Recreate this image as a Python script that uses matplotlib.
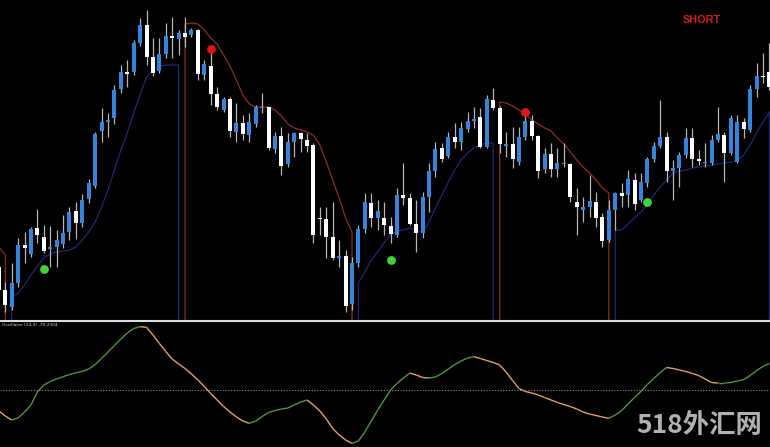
import numpy as np
import matplotlib
matplotlib.use("Agg")
import matplotlib.pyplot as plt
from matplotlib.collections import LineCollection
from matplotlib.lines import Line2D

# candle data (price points), one value per bar
opens = [53, 30, 13, 37, 75, 66, 92, 83, 71, 73,
         76, 88, 109, 97, 121, 134, 189, 198, 202, 231,
         248, 248, 277, 295, 263, 249, 266, 284, 281, 287,
         285, 290, 245, 254, 226, 210, 221, 188, 197, 185,
         196, 212, 213, 171, 184, 156, 178, 187, 180, 175,
         102, 101, 83, 62, 64, 16, 57, 91, 117, 102,
         102, 94, 85, 125, 122, 96, 87, 123, 149, 172,
         164, 183, 178, 191, 199, 203, 173, 220, 212, 174,
         176, 158, 183, 199, 184, 151, 166, 151, 156, 156,
         118, 110, 113, 118, 103, 80, 110, 127, 125, 140,
         120, 137, 161, 174, 183, 149, 152, 165, 182, 161,
         157, 157, 180, 185, 167, 158, 198, 190, 231, 244,
         248]
closes = [30, 15, 37, 75, 72, 91, 85, 69, 73, 80,
          87, 108, 97, 120, 137, 186, 198, 200, 230, 248,
          246, 277, 295, 263, 247, 266, 284, 282, 287, 283,
          290, 246, 256, 226, 213, 221, 189, 197, 186, 198,
          213, 213, 172, 184, 154, 178, 187, 181, 174, 85,
          101, 83, 62, 64, 14, 57, 91, 118, 102, 109,
          95, 86, 125, 122, 96, 87, 123, 149, 171, 161,
          183, 178, 192, 199, 201, 173, 221, 212, 176, 176,
          161, 183, 199, 184, 149, 166, 151, 157, 157, 123,
          113, 113, 119, 102, 79, 110, 127, 124, 141, 116,
          138, 161, 174, 183, 149, 152, 165, 182, 161, 159,
          158, 180, 186, 167, 202, 198, 191, 231, 244, 243,
          233]
highs = [58, 38, 57, 82, 88, 93, 111, 95, 94, 90,
         105, 113, 118, 126, 141, 188, 212, 207, 235, 255,
         260, 280, 302, 310, 282, 282, 297, 303, 290, 303,
         292, 291, 260, 267, 233, 223, 223, 217, 205, 207,
         215, 227, 213, 188, 193, 187, 188, 188, 187, 177,
         113, 113, 118, 80, 70, 63, 95, 127, 127, 120,
         118, 103, 132, 157, 127, 120, 128, 157, 178, 177,
         188, 197, 198, 208, 213, 212, 225, 232, 214, 188,
         193, 193, 205, 205, 185, 172, 177, 172, 177, 157,
         132, 123, 145, 128, 107, 120, 128, 137, 150, 147,
         147, 163, 178, 220, 188, 160, 168, 192, 192, 170,
         177, 185, 213, 188, 205, 205, 202, 235, 257, 267,
         277]
lows = [28, 8, 10, 33, 57, 63, 77, 67, 53, 53,
        72, 80, 81, 93, 117, 132, 178, 183, 196, 227,
        233, 245, 274, 255, 244, 247, 262, 262, 265, 273,
        283, 240, 240, 215, 210, 208, 183, 178, 180, 178,
        193, 207, 170, 167, 145, 153, 163, 168, 168, 77,
        85, 62, 60, 53, 8, 10, 53, 87, 93, 90,
        85, 77, 83, 115, 95, 68, 82, 108, 143, 158,
        162, 172, 170, 188, 192, 172, 172, 210, 167, 163,
        152, 155, 180, 180, 142, 147, 143, 143, 153, 118,
        85, 98, 103, 93, 73, 78, 90, 113, 113, 110,
        118, 133, 158, 172, 138, 120, 133, 162, 153, 155,
        153, 155, 178, 138, 165, 157, 182, 188, 223, 237,
        230]

# trailing stop lines: (first bar, values)
support_segments = [
    (2, [23, 27, 35, 45, 54, 62, 66, 68, 69, 70, 73, 80, 88, 98, 113, 130, 150,
         170, 187, 207, 225, 243, 250, 254, 255, 255, 255]),
    (56, [37, 48, 60, 68, 77, 85, 89, 90, 92, 90, 88, 98, 112, 125, 138, 150,
          160, 167, 172, 175, 177, 177]),
    (96, [90, 90, 96, 102, 108, 115, 125, 133, 140, 147, 149, 150, 152, 153,
          154, 155, 156, 157, 158, 160, 165, 175, 187, 198, 208]),
]
resistance_segments = [
    (0, [73, 65]),
    (29, [296, 297, 296, 290, 282, 276, 265, 254, 240, 225, 216, 213, 213, 213,
          210, 204, 196, 192, 190, 188, 185, 175, 158, 140, 122, 102, 88]),
    (78, [218, 217, 214, 210, 206, 200, 196, 192, 189, 182, 176, 168, 160, 153,
          147, 140, 132, 127]),
]

# signal dots (bar, price)
buy_bars = [7, 61, 101]
buy_prices = [51, 60, 118]
sell_bars = [33, 82]
sell_prices = [271, 208]

# oscillator, one value per bar
osc = [-21, -26, -30, -28, -22, -15, -2, 5, 8.5, 11,
       13.3, 15.5, 17.2, 18.7, 21, 25.5, 31.5, 38, 44.5, 51,
       57, 61.5, 63.3, 62.7, 55, 46.5, 38.5, 31, 26, 21.5,
       16, 10, 3.5, -3.5, -10, -16.5, -22, -27, -31, -33.3,
       -31, -26.5, -22.5, -20.5, -19, -18, -15, -12, -10, -15,
       -21, -29, -38.5, -45, -50, -53.3, -51, -42, -31, -20,
       -10, 0, 6.5, 12, 17, 15, 12.5, 12, 13, 16.5,
       21, 25.5, 29, 32, 33.3, 31.5, 29.5, 27.5, 25, 18,
       9.5, 1.5, -1.5, -3, -5, -7.5, -10, -12.5, -14.5, -16.5,
       -19, -22, -24, -25.5, -27, -28.3, -25, -20.5, -14, -7.5,
       -1.5, 5.5, 11.5, 17.5, 22.5, 21.5, 20, 18.5, 16.5, 14.5,
       11, 7.5, 7, 7, 7.5, 9, 10.5, 14.5, 19.5, 23.5,
       26.5]

fig = plt.figure(figsize=(7.7, 4.47), dpi=100, facecolor="black")
ax = fig.add_axes([0, 127 / 447, 1, 320 / 447], facecolor="black")
ax2 = fig.add_axes([0, 0, 1, 126 / 447], facecolor="black")

x = np.arange(len(opens))
o = np.array(opens, float)
c = np.array(closes, float)
up = c >= o

# wicks
ax.vlines(x, lows, highs, color="#b4b4b4", lw=0.9, zorder=2)
# bodies
body_low = np.minimum(o, c)
body_h = np.maximum(np.abs(c - o), 1.0)
ax.bar(x[up], body_h[up], bottom=body_low[up], width=0.62, color="#3584dc", zorder=3)
ax.bar(x[~up], body_h[~up], bottom=body_low[~up], width=0.62, color="white", zorder=3)

# trailing lines, they drop to the bottom at each switch
for start, vals in support_segments:
    xs = [start] + list(range(start, start + len(vals))) + [start + len(vals) - 1]
    ys = [-10] + vals + [-10]
    ax.plot(xs, ys, color="#1f2878", lw=0.9, zorder=1)
for start, vals in resistance_segments:
    xs = [start] + list(range(start, start + len(vals))) + [start + len(vals) - 1]
    ys = [-10] + vals + [-10]
    ax.plot(xs, ys, color="#8e2c22", lw=0.9, zorder=1)

ax.scatter(buy_bars, buy_prices, s=40, color="#3fd23a", zorder=5, linewidths=0)
ax.scatter(sell_bars, sell_prices, s=40, color="#e0141a", zorder=5, linewidths=0)

ax.text(0.911, 0.938, "SHORT", transform=ax.transAxes, color="#d81a1a",
        fontsize=7.8, fontweight="bold", family="Liberation Sans",
        ha="center", va="center")

ax.set_xlim(0.18, 120.1)
ax.set_ylim(0, 320)
ax.axis("off")

# oscillator panel: green when rising, orange when falling
ov = np.array(osc, float)
pts = np.column_stack([x, ov])
segs = np.stack([pts[:-1], pts[1:]], axis=1)
cols = ["#4f963c" if ov[i + 1] >= ov[i] else "#e3a263" for i in range(len(ov) - 1)]
ax2.add_collection(LineCollection(segs, colors=cols, linewidths=1.0))
ax2.axhline(0, color="#8c8c8c", lw=0.8, ls=(0, (1, 1.5)))
ax2.set_xlim(0.18, 120.1)
ax2.set_ylim(-57, 69)
ax2.axis("off")
ax2.text(0.002, 0.985, "Oscillator (14,3) -70.2304", transform=ax2.transAxes,
         color="#d0d0d0", fontsize=3.2, ha="left", va="top")

# watermark
ax2.text(0.99, 0.06, "518外汇网", transform=ax2.transAxes, color="#c4c4c4",
         alpha=0.9, fontsize=19, fontweight="bold",
         family=["Noto Sans CJK SC", "DejaVu Sans"], ha="right", va="bottom")

# separator between the panels
fig.add_artist(Line2D([0, 1], [126.5 / 447, 126.5 / 447], color="#dcdcdc", lw=1.5))

fig.savefig("out.png", dpi=100, facecolor="black")
